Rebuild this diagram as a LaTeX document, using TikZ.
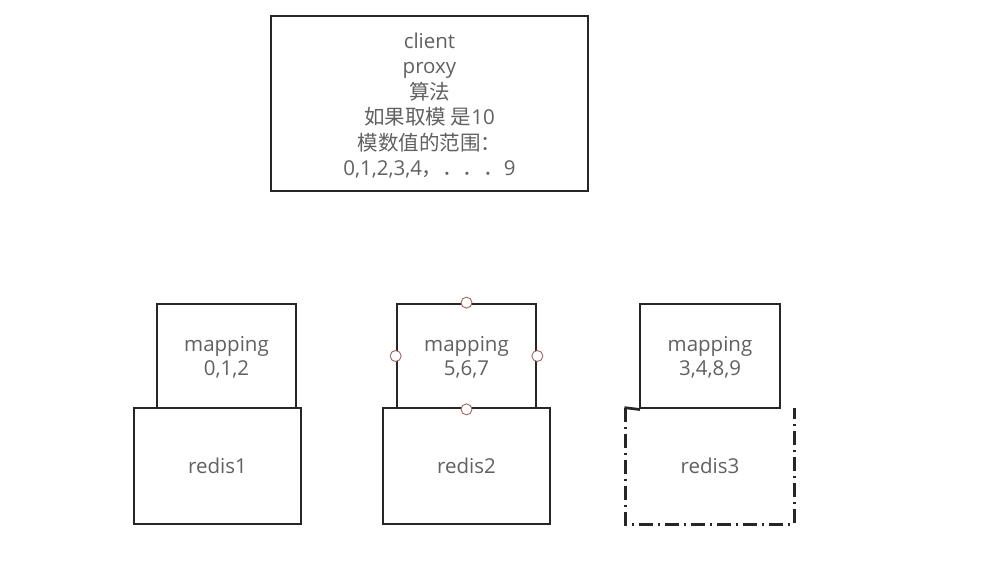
\documentclass[tikz,border=0pt]{standalone}
\usepackage{fontspec}
\setmainfont{Open Sans}
\newfontfamily\cjk{Noto Sans CJK SC}
\begin{document}
\begin{tikzpicture}[x=1pt,y=-1pt,
  box/.style={draw=black!85,line width=2.7pt,rectangle,inner sep=0pt},
  txt/.style={inner sep=0pt,text=black!62,align=center,font=\fontsize{20.5}{24}\selectfont},
  handle/.style={circle,draw=red!40!black!60,fill=white,line width=0.9pt,minimum size=11pt,inner sep=0pt}]
\useasboundingbox (0,0) rectangle (998,572);
\fill[white] (0,0) rectangle (998,572);
% top box
\node[box,minimum width=317pt,minimum height=175pt] (top) at (429.5,103.5) {};
\node[txt,font=\fontsize{20.5}{25.5}\selectfont] (toptxt) at ([yshift=-2pt]top.center)
  {client\\proxy\\{\cjk 算法}\\{\cjk 如果取模 是}10\\{\cjk 模数值的范围：}\\0,1,2,3,4{\cjk ，．．．}9};
% redis boxes
\node[box,minimum width=167pt,minimum height=116pt] (r1) at (217.5,466) {};
\node[box,minimum width=167pt,minimum height=116pt] (r2) at (466.5,466) {};
\node[minimum width=168pt,minimum height=116pt,inner sep=0pt] (r3) at (710,466) {};
\node[txt] (r1t) at (r1.center) {redis1};
\node[txt] (r2t) at (r2.center) {redis2};
\node[txt] (r3t) at (r3.center) {redis3};
\draw[black!85,line width=2.7pt,dash pattern=on 14pt off 5pt on 2pt off 5pt] (r3.north west) -- (r3.south west) -- (r3.south east) -- (r3.north east);
% mapping boxes
\node[box,minimum width=139pt,minimum height=104pt] (m1) at (226.5,356) {};
\node[box,minimum width=139pt,minimum height=104pt] (m2) at (466.5,356) {};
\node[box,minimum width=140pt,minimum height=104pt] (m3) at (710,356) {};
\node[txt] (m1t) at ([yshift=-1.5pt]m1.center) {mapping\\0,1,2};
\node[txt] (m2t) at ([yshift=-1.5pt]m2.center) {mapping\\5,6,7};
\node[txt] (m3t) at ([yshift=-1.5pt]m3.center) {mapping\\3,4,8,9};
\draw[black!85,line width=2.7pt,line cap=rect] (r3.north west) -- (m3.south west);
% selection handles
\node[handle] (h1) at (m2.north) {};
\node[handle] (h2) at (m2.south) {};
\node[handle] (h3) at (m2.west) {};
\node[handle] (h4) at (m2.east) {};
\end{tikzpicture}
\end{document}
